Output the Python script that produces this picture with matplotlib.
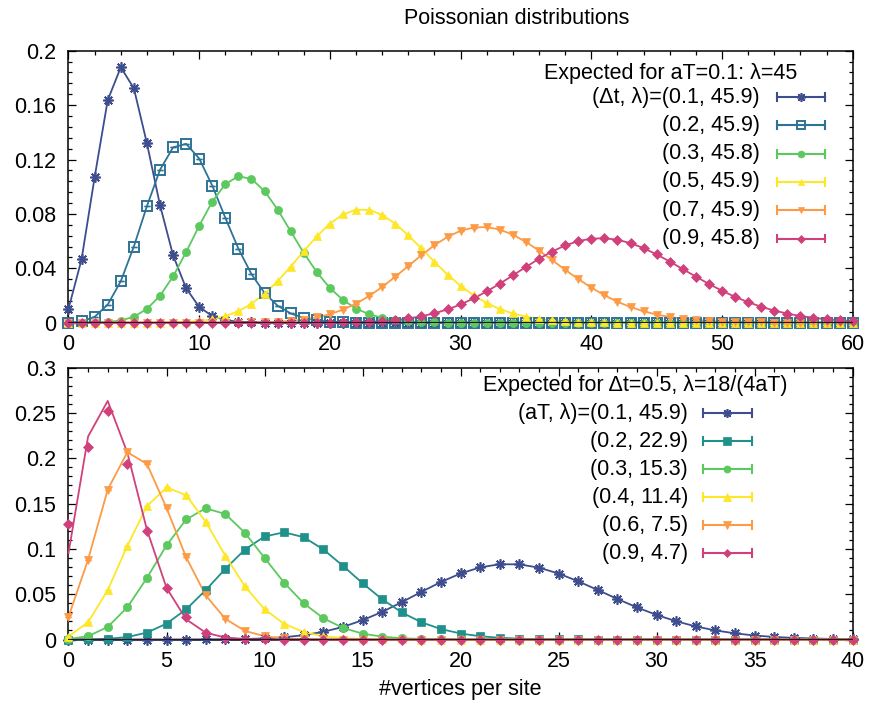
import numpy as np
import matplotlib
matplotlib.use("Agg")
import matplotlib.pyplot as plt
from matplotlib.lines import Line2D

plt.rcParams['font.family'] = ['Liberation Sans', 'DejaVu Sans']

# ---------------- data ----------------
x_top = list(range(61))
x_bot = list(range(41))

top_labels = ["(\u0394t, \u03bb)=(0.1, 45.9)", "(0.2, 45.9)", "(0.3, 45.8)",
              "(0.5, 45.9)", "(0.7, 45.9)", "(0.9, 45.8)"]
top_title = "Expected for aT=0.1: \u03bb=45"
bot_labels = ["(aT, \u03bb)=(0.1, 45.9)", "(0.2, 22.9)", "(0.3, 15.3)",
              "(0.4, 11.4)", "(0.6, 7.5)", "(0.9, 4.7)"]
bot_title = "Expected for \u0394t=0.5, \u03bb=18/(4aT)"

top_dt01 = [0.0102, 0.0466, 0.1070, 0.1636, 0.1878, 0.1724, 0.1319, 0.0865, 0.0496, 0.0253,
            0.0116, 0.0049, 0.0019, 0.0007, 0.0002, 0.0001, 0, 0, 0, 0,
            0, 0, 0, 0, 0, 0, 0, 0, 0, 0,
            0, 0, 0, 0, 0, 0, 0, 0, 0, 0,
            0, 0, 0, 0, 0, 0, 0, 0, 0, 0,
            0, 0, 0, 0, 0, 0, 0, 0, 0, 0, 0]
top_dt02 = [0.0001, 0.0009, 0.0043, 0.0133, 0.0305, 0.0560, 0.0857, 0.1124, 0.1289, 0.1315,
            0.1207, 0.1008, 0.0771, 0.0544, 0.0357, 0.0218, 0.0125, 0.0068, 0.0035, 0.0017,
            0.0008, 0.0003, 0.0001, 0, 0, 0, 0, 0, 0, 0,
            0, 0, 0, 0, 0, 0, 0, 0, 0, 0,
            0, 0, 0, 0, 0, 0, 0, 0, 0, 0,
            0, 0, 0, 0, 0, 0, 0, 0, 0, 0, 0]
top_dt03 = [0, 0, 0.0001, 0.0005, 0.0016, 0.0044, 0.0101, 0.0198, 0.0340, 0.0519,
            0.0713, 0.0890, 0.1019, 0.1077, 0.1057, 0.0968, 0.0832, 0.0672, 0.0513, 0.0371,
            0.0255, 0.0167, 0.0104, 0.0062, 0.0036, 0.0020, 0.0010, 0.0005, 0.0003, 0.0001,
            0.0001, 0, 0, 0, 0, 0, 0, 0, 0, 0,
            0, 0, 0, 0, 0, 0, 0, 0, 0, 0,
            0, 0, 0, 0, 0, 0, 0, 0, 0, 0, 0]
top_dt05 = [0, 0, 0, 0, 0, 0, 0, 0.0001, 0.0002, 0.0005,
            0.0012, 0.0025, 0.0048, 0.0085, 0.0139, 0.0213, 0.0305, 0.0412, 0.0526, 0.0635,
            0.0729, 0.0796, 0.0831, 0.0829, 0.0793, 0.0728, 0.0642, 0.0546, 0.0447, 0.0354,
            0.0271, 0.0201, 0.0144, 0.0100, 0.0068, 0.0044, 0.0028, 0.0018, 0.0011, 0.0006,
            0.0004, 0.0002, 0.0001, 0.0001, 0, 0, 0, 0, 0, 0,
            0, 0, 0, 0, 0, 0, 0, 0, 0, 0, 0]
top_dt07 = [0, 0, 0, 0, 0, 0, 0, 0, 0, 0,
            0, 0, 0, 0.0001, 0.0002, 0.0003, 0.0007, 0.0013, 0.0023, 0.0039,
            0.0063, 0.0096, 0.0140, 0.0196, 0.0263, 0.0338, 0.0417, 0.0496, 0.0570, 0.0631,
            0.0676, 0.0700, 0.0703, 0.0685, 0.0647, 0.0594, 0.0530, 0.0460, 0.0389, 0.0321,
            0.0258, 0.0202, 0.0154, 0.0115, 0.0084, 0.0060, 0.0042, 0.0029, 0.0019, 0.0013,
            0.0008, 0.0005, 0.0003, 0.0002, 0.0001, 0.0001, 0, 0, 0, 0, 0]
top_dt09 = [0, 0, 0, 0, 0, 0, 0, 0, 0, 0,
            0, 0, 0, 0, 0, 0, 0, 0, 0, 0.0001,
            0.0001, 0.0002, 0.0004, 0.0007, 0.0012, 0.0019, 0.0031, 0.0047, 0.0069, 0.0098,
            0.0134, 0.0179, 0.0230, 0.0287, 0.0348, 0.0410, 0.0470, 0.0523, 0.0568, 0.0600,
            0.0618, 0.0621, 0.0610, 0.0585, 0.0548, 0.0502, 0.0450, 0.0394, 0.0339, 0.0285,
            0.0235, 0.0190, 0.0151, 0.0117, 0.0089, 0.0067, 0.0049, 0.0036, 0.0025, 0.0018, 0.0012]

bot_aT01 = [0, 0, 0, 0, 0, 0, 0, 0.0001, 0.0002, 0.0005,
            0.0012, 0.0025, 0.0048, 0.0085, 0.0139, 0.0213, 0.0305, 0.0412, 0.0526, 0.0635,
            0.0729, 0.0796, 0.0831, 0.0829, 0.0793, 0.0728, 0.0642, 0.0546, 0.0447, 0.0354,
            0.0271, 0.0201, 0.0144, 0.0100, 0.0068, 0.0044, 0.0028, 0.0018, 0.0011, 0.0006, 0.0004]
bot_aT02 = [0, 0.0001, 0.0007, 0.0027, 0.0076, 0.0175, 0.0333, 0.0545, 0.0780, 0.0993,
            0.1137, 0.1183, 0.1129, 0.0994, 0.0813, 0.0621, 0.0444, 0.0299, 0.0190, 0.0115,
            0.0066, 0.0036, 0.0019, 0.0009, 0.0004, 0.0002, 0.0001, 0, 0, 0,
            0, 0, 0, 0, 0, 0, 0, 0, 0, 0, 0]
bot_aT03 = [0.0005, 0.0036, 0.0139, 0.0355, 0.0679, 0.1039, 0.1325, 0.1448, 0.1385, 0.1177,
            0.0901, 0.0626, 0.0399, 0.0235, 0.0128, 0.0065, 0.0031, 0.0014, 0.0006, 0.0002,
            0.0001, 0, 0, 0, 0, 0, 0, 0, 0, 0,
            0, 0, 0, 0, 0, 0, 0, 0, 0, 0, 0]
bot_aT04 = [0.0033, 0.0191, 0.0544, 0.1033, 0.1472, 0.1678, 0.1594, 0.1298, 0.0925, 0.0586,
            0.0334, 0.0173, 0.0082, 0.0036, 0.0015, 0.0006, 0.0002, 0.0001, 0, 0,
            0, 0, 0, 0, 0, 0, 0, 0, 0, 0,
            0, 0, 0, 0, 0, 0, 0, 0, 0, 0, 0]
bot_aT06 = [0.0250, 0.0882, 0.1654, 0.2067, 0.1938, 0.1453, 0.0908, 0.0487, 0.0228, 0.0095,
            0.0036, 0.0012, 0.0004, 0.0001, 0, 0, 0, 0, 0, 0,
            0, 0, 0, 0, 0, 0, 0, 0, 0, 0,
            0, 0, 0, 0, 0, 0, 0, 0, 0, 0, 0]
bot_aT09 = [0.1270, 0.2130, 0.2520, 0.1940, 0.1200, 0.0570, 0.0250, 0.0070, 0.0015, 0.0003,
            0.0001, 0, 0, 0, 0, 0, 0, 0, 0, 0,
            0, 0, 0, 0, 0, 0, 0, 0, 0, 0,
            0, 0, 0, 0, 0, 0, 0, 0, 0, 0, 0]
# expected curve for aT=0.9 (differs visibly from the measured points)
bot_aT09_expected = [0.0954, 0.2241, 0.2633, 0.2063, 0.1212, 0.0570, 0.0223, 0.0075, 0.0022, 0.0006,
                     0.0001, 0, 0, 0, 0, 0, 0, 0, 0, 0,
                     0, 0, 0, 0, 0, 0, 0, 0, 0, 0,
                     0, 0, 0, 0, 0, 0, 0, 0, 0, 0, 0]

top_series = [top_dt01, top_dt02, top_dt03, top_dt05, top_dt07, top_dt09]
bot_series = [bot_aT01, bot_aT02, bot_aT03, bot_aT04, bot_aT06, bot_aT09]
bot_curves = [bot_aT01, bot_aT02, bot_aT03, bot_aT04, bot_aT06, bot_aT09_expected]

# ---------------- styles ----------------
C_BLUE = '#3d4d8e'
C_TEAL_T = '#2e7396'
C_TEAL_B = '#20908a'
C_GREEN = '#5cc95e'
C_YELLOW = '#fde726'
C_ORANGE = '#fd9a45'
C_MAG = '#d0417c'

ASTER = (8, 2, 0)
top_styles = [
    dict(color=C_BLUE, marker=ASTER, ms=7.5, mfc=C_BLUE, mew=1.2),
    dict(color=C_TEAL_T, marker='s', ms=6.8, mfc='none', mew=1.4),
    dict(color=C_GREEN, marker='o', ms=5.8, mfc=C_GREEN, mew=0.5),
    dict(color=C_YELLOW, marker='^', ms=5.8, mfc=C_YELLOW, mew=0.5),
    dict(color=C_ORANGE, marker='v', ms=5.8, mfc=C_ORANGE, mew=0.5),
    dict(color=C_MAG, marker='D', ms=4.6, mfc=C_MAG, mew=0.5),
]
bot_styles = [
    dict(color=C_BLUE, marker=ASTER, ms=7.5, mfc=C_BLUE, mew=1.2),
    dict(color=C_TEAL_B, marker='s', ms=6, mfc=C_TEAL_B, mew=0.5),
    dict(color=C_GREEN, marker='o', ms=6, mfc=C_GREEN, mew=0.5),
    dict(color=C_YELLOW, marker='^', ms=6, mfc=C_YELLOW, mew=0.5),
    dict(color=C_ORANGE, marker='v', ms=6, mfc=C_ORANGE, mew=0.5),
    dict(color=C_MAG, marker='D', ms=4.6, mfc=C_MAG, mew=0.5),
]

W, H = 870, 708
FS = 15.5
fig = plt.figure(figsize=(W / 100, H / 100), dpi=100)


def fx(px):
    return px / W


def fy(py):
    return 1 - py / H


def make_axes(top_px, bot_px):
    left, right = 68.5, 852.7
    return fig.add_axes([fx(left), fy(bot_px), fx(right) - fx(left), fy(top_px) - fy(bot_px)])


def style_axes(ax, xmax, xmajor, xminor, ymax, ymajor, yminor, yfmt):
    ax.set_xlim(0, xmax)
    ax.set_ylim(0, ymax)
    ax.set_xticks(np.arange(0, xmax + 0.001, xmajor))
    ax.set_xticks(np.arange(0, xmax + 0.001, xminor), minor=True)
    ax.set_yticks(np.arange(0, ymax + 1e-9, ymajor))
    ax.set_yticks(np.arange(0, ymax + 1e-9, yminor), minor=True)
    ax.set_yticklabels([yfmt(v) for v in np.arange(0, ymax + 1e-9, ymajor)])
    ax.tick_params(which='both', direction='in', top=True, right=True, labelsize=FS, width=0.9)
    ax.tick_params(which='major', length=5.5)
    ax.tick_params(which='minor', length=3)
    ax.tick_params(axis='y', pad=9)
    ax.tick_params(axis='x', pad=8)
    for s in ax.spines.values():
        s.set_linewidth(1.1)


def plot_series(ax, x, ys, curves, styles):
    for y, yc, st in zip(ys, curves, styles):
        ax.plot(x, yc, color=st['color'], lw=1.3, zorder=3, clip_on=False)
        ax.errorbar(x, y, yerr=np.zeros(len(y)), fmt='none', ecolor=st['color'],
                    capsize=2.5, capthick=1.0, elinewidth=1.0, zorder=4, clip_on=False)
        ax.plot(x, y, linestyle='none', marker=st['marker'], ms=st['ms'],
                mfc=st['mfc'], mec=st['color'], mew=st['mew'], zorder=4, clip_on=False)
    ax.axhline(0, color='#2a1424', lw=1.6, zorder=5)


def legend(title, title_x, title_y, labels, text_right, y0, dy, line_x0, line_x1, styles):
    fig.text(fx(title_x), fy(title_y), title, ha='center', va='center', fontsize=FS)
    for i, (lab, st) in enumerate(zip(labels, styles)):
        yy = y0 + i * dy
        fig.text(fx(text_right), fy(yy), lab, ha='right', va='center', fontsize=FS)
        c = st['color']
        fig.add_artist(Line2D([fx(line_x0), fx(line_x1)], [fy(yy), fy(yy)], color=c, lw=1.5,
                              transform=fig.transFigure))
        for xc in (line_x0, line_x1):
            fig.add_artist(Line2D([fx(xc), fx(xc)], [fy(yy - 4), fy(yy + 4)], color=c, lw=1.5,
                                  transform=fig.transFigure))
        xm = (line_x0 + line_x1) / 2
        fig.add_artist(Line2D([fx(xm)], [fy(yy)], marker=st['marker'], ms=st['ms'] * 0.85,
                              mfc=st['mfc'], mec=c, mew=st['mew'], color=c,
                              transform=fig.transFigure))


# ---------------- top panel ----------------
ax1 = make_axes(50.7, 322.7)
style_axes(ax1, 60, 10, 2, 0.2, 0.04, 0.008,
           lambda v: '0' if abs(v) < 1e-12 else ('%.2f' % v).rstrip('0'))
plot_series(ax1, x_top, top_series, top_series, top_styles)
legend(top_title, 671, 73.5, top_labels, 760, 97, 28.3, 777, 825, top_styles)

# ---------------- bottom panel ----------------
ax2 = make_axes(367.7, 639.5)
style_axes(ax2, 40, 5, 1, 0.3, 0.05, 0.01,
           lambda v: '0' if abs(v) < 1e-12 else ('%.2f' % v).rstrip('0'))
plot_series(ax2, x_bot, bot_series, bot_curves, bot_styles)
legend(bot_title, 635, 386, bot_labels, 688, 413, 28, 703, 752, bot_styles)

fig.text(fx(517), fy(18), "Poissonian distributions", ha='center', va='center', fontsize=FS)
fig.text(fx(460.6), fy(690), "#vertices per site", ha='center', va='center', fontsize=FS)

fig.savefig('out.png', dpi=100)
